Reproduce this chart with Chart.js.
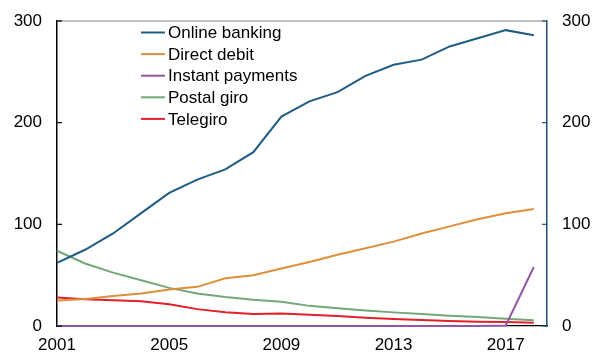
<!DOCTYPE html>
<html>
<head>
<meta charset="utf-8">
<script src="https://cdn.jsdelivr.net/npm/chart.js@4/dist/chart.umd.min.js"></script>
<style>
  html, body { margin: 0; padding: 0; background: #fff; }
  #wrap { width: 592px; height: 354px; position: relative; }
</style>
</head>
<body>
<div id="wrap"><canvas id="chart"></canvas></div>
<script>
const years = [2001, 2002, 2003, 2004, 2005, 2006, 2007, 2008, 2009, 2010, 2011, 2012, 2013, 2014, 2015, 2016, 2017, 2018];
const onlineBanking = [62, 75, 91, 111, 131, 144, 154, 171, 206, 221, 230, 246, 257, 262, 275, 283, 291, 286];
const directDebit = [25, 26.5, 29.5, 32, 36, 38.5, 47, 50, 56.5, 63, 70, 76.5, 83, 91, 98, 105, 111, 115];
const instantPayments = [0, 0, 0, 0, 0, 0, 0, 0, 0, 0, 0, 0, 0, 0, 0, 0, 0.5, 58];
const postalGiro = [74, 61.5, 52.5, 45, 37.5, 32, 28.5, 25.8, 23.8, 19.8, 17.4, 15.2, 13.4, 11.8, 10.2, 8.9, 7.2, 5.6];
const telegiro = [28, 26.3, 25.3, 24.3, 21.3, 16.6, 13.6, 11.8, 12.4, 11, 9.8, 8.2, 6.9, 5.9, 4.9, 4.3, 3.9, 3.3];
const xTicks = [2001, 2005, 2009, 2013, 2017];
const yTicks = [0, 100, 200, 300];

const font = { family: 'Arial, "Liberation Sans", sans-serif', size: 17 };
const pts = arr => arr.map((v, i) => ({ x: years[i], y: v }));
const line = (label, data, color) => ({
    label, data: pts(data), borderColor: color, backgroundColor: color,
    borderWidth: 2, pointRadius: 0, tension: 0, clip: false
});
const fitY = w => s => { s.width = w; s.paddingTop = 0; s.paddingBottom = 0; };

// axis decorations: inward ticks, top frame line, legend inside plot
const decor = {
    id: 'decor',
    afterDatasetsDraw(chart) {
        const { ctx, chartArea: a, scales } = chart;
        ctx.save();
        ctx.lineWidth = 1.2;
        ctx.strokeStyle = '#808080';
        ctx.beginPath(); ctx.moveTo(a.left, a.top); ctx.lineTo(a.right, a.top); ctx.stroke();
        yTicks.forEach(v => {
            const y = scales.y.getPixelForValue(v);
            ctx.strokeStyle = '#000';
            ctx.beginPath(); ctx.moveTo(a.left, y); ctx.lineTo(a.left + 5, y); ctx.stroke();
            ctx.strokeStyle = '#1f4e79';
            ctx.beginPath(); ctx.moveTo(a.right, y); ctx.lineTo(a.right - 5, y); ctx.stroke();
        });
        ctx.font = font.size + 'px ' + font.family;
        ctx.textBaseline = 'middle';
        ctx.fillStyle = '#000';
        chart.data.datasets.forEach((d, i) => {
            const y = 32.5 + i * 21.6;
            ctx.strokeStyle = d.borderColor;
            ctx.lineWidth = 2;
            ctx.beginPath(); ctx.moveTo(141, y); ctx.lineTo(165, y); ctx.stroke();
            ctx.fillText(d.label, 168, y + 1);
        });
        ctx.restore();
    }
};

new Chart(document.getElementById('chart'), {
    type: 'line',
    data: {
        datasets: [
            line('Online banking', onlineBanking, '#1f5c82'),
            line('Direct debit', directDebit, '#dd8f3c'),
            line('Instant payments', instantPayments, '#9457a6'),
            line('Postal giro', postalGiro, '#73a77a'),
            line('Telegiro', telegiro, '#e3202a')
        ]
    },
    options: {
        responsive: true, maintainAspectRatio: false, animation: false,
        layout: { padding: { top: 21, left: 0, right: 0, bottom: 0 } },
        plugins: { legend: { display: false }, tooltip: { enabled: false } },
        scales: {
            x: {
                type: 'linear', min: 2001, max: 2018.47,
                afterBuildTicks: s => { s.ticks = xTicks.map(v => ({ value: v })); },
                afterFit: s => { s.height = 28; s.paddingLeft = 0; s.paddingRight = 0; },
                ticks: { font, color: '#000', padding: 9, maxRotation: 0, callback: v => String(v) },
                grid: { display: false, drawTicks: false },
                border: { color: '#000', width: 1.2 }
            },
            y: {
                position: 'left', min: 0, max: 300,
                afterBuildTicks: s => { s.ticks = yTicks.map(v => ({ value: v })); },
                afterFit: fitY(57),
                ticks: { font, color: '#000', padding: 15 },
                grid: { display: false, drawTicks: false },
                border: { color: '#000', width: 1.5 }
            },
            y2: {
                position: 'right', min: 0, max: 300,
                afterBuildTicks: s => { s.ticks = yTicks.map(v => ({ value: v })); },
                afterFit: fitY(45),
                ticks: { font, color: '#000', padding: 15 },
                grid: { display: false, drawTicks: false },
                border: { color: '#1f4e79', width: 1.5 }
            }
        }
    },
    plugins: [decor]
});
</script>
</body>
</html>
